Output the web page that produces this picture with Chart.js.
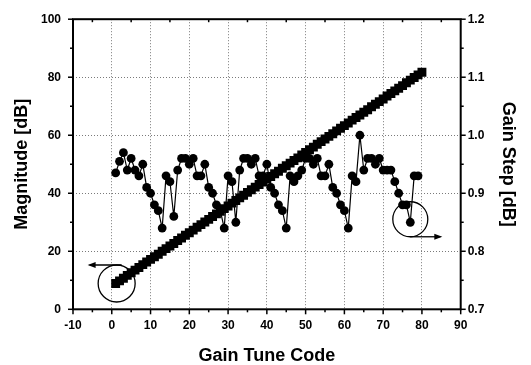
<!DOCTYPE html>
<html>
<head>
<meta charset="utf-8">
<script src="https://cdn.jsdelivr.net/npm/chart.js@4/dist/chart.umd.min.js"></script>
<style>
html,body{margin:0;padding:0;background:#fff;}
#wrap{width:531px;height:365px;position:relative;}
</style>
</head>
<body>
<div id="wrap"><canvas id="c" width="531" height="365"></canvas></div>
<script>
// Gain tune codes
const magCodes = [1,2,3,4,5,6,7,8,9,10,11,12,13,14,15,16,17,18,19,20,21,22,23,24,25,26,27,28,29,30,31,32,33,34,35,36,37,38,39,40,41,42,43,44,45,46,47,48,49,50,51,52,53,54,55,56,57,58,59,60,61,62,63,64,65,66,67,68,69,70,71,72,73,74,75,76,77,78,79,80];
// Magnitude [dB] (left axis)
const magnitude = [8.9,9.8,10.7,11.7,12.6,13.5,14.4,15.4,16.3,17.2,18.1,19.0,20.0,20.9,21.8,22.7,23.7,24.6,25.5,26.4,27.3,28.3,29.2,30.1,31.0,32.0,32.9,33.8,34.7,35.6,36.6,37.5,38.4,39.3,40.3,41.2,42.1,43.0,43.9,44.9,45.8,46.7,47.6,48.6,49.5,50.4,51.3,52.2,53.2,54.1,55.0,55.9,56.9,57.8,58.7,59.6,60.5,61.5,62.4,63.3,64.2,65.2,66.1,67.0,67.9,68.8,69.8,70.7,71.6,72.5,73.5,74.4,75.3,76.2,77.1,78.1,79.0,79.9,80.8,81.7];
const stepCodes = [1,2,3,4,5,6,7,8,9,10,11,12,13,14,15,16,17,18,19,20,21,22,23,24,25,26,27,28,29,30,31,32,33,34,35,36,37,38,39,40,41,42,43,44,45,46,47,48,49,50,51,52,53,54,55,56,57,58,59,60,61,62,63,64,65,66,67,68,69,70,71,72,73,74,75,76,77,78,79];
// Gain Step [dB] (right axis)
const gainStep = [0.935,0.955,0.970,0.940,0.960,0.940,0.930,0.950,0.910,0.900,0.880,0.870,0.840,0.930,0.920,0.860,
  0.940,0.960,0.960,0.950,0.960,0.930,0.930,0.950,0.910,0.900,0.880,0.870,0.840,0.930,0.920,0.850,
  0.940,0.960,0.960,0.950,0.960,0.930,0.930,0.950,0.910,0.900,0.880,0.870,0.840,0.930,0.920,0.930,
  0.940,0.960,0.960,0.950,0.960,0.930,0.930,0.950,0.910,0.900,0.880,0.870,0.840,0.930,0.920,1.000,
  0.940,0.960,0.960,0.950,0.960,0.940,0.940,0.940,0.920,0.900,0.880,0.880,0.850,0.930,0.930];
// Axis tick definitions
const xTicks = [-10,0,10,20,30,40,50,60,70,80,90];
const yLeftTicks = [0,20,40,60,80,100];
const yRightTicks = [0.7,0.8,0.9,1.0,1.1,1.2];
const xTitle = 'Gain Tune Code';
const yLeftTitle = 'Magnitude [dB]';
const yRightTitle = 'Gain Step [dB]';

const FONT = '"Liberation Sans", Arial, sans-serif';

function gridColor(edgeVals){
  return (ctx) => {
    const v = ctx.tick ? ctx.tick.value : null;
    if (v === null) return 'rgba(0,0,0,0)';
    for (const e of edgeVals) if (Math.abs(v - e) < 1e-9) return 'rgba(0,0,0,0)';
    return '#7a7a7a';
  };
}

const framePlugin = {
  id: 'frame',
  afterDraw(chart) {
    const ctx = chart.ctx;
    const a = chart.chartArea;
    const xs = chart.scales.x, yl = chart.scales.y, yr = chart.scales.y1;
    ctx.save();
    ctx.strokeStyle = '#000';
    ctx.lineWidth = 1.5;
    function hTick(x, y0, y1) { ctx.beginPath(); ctx.moveTo(x, y0); ctx.lineTo(x, y1); ctx.stroke(); }
    function vTick(y, x0, x1) { ctx.beginPath(); ctx.moveTo(x0, y); ctx.lineTo(x1, y); ctx.stroke(); }
    for (let i = 0; i < xTicks.length; i++) {
      const x = xs.getPixelForValue(xTicks[i]);
      hTick(x, a.bottom, a.bottom + 5);
      if (i < xTicks.length - 1) {
        const xm = xs.getPixelForValue((xTicks[i] + xTicks[i+1]) / 2);
        hTick(xm, a.bottom, a.bottom + 3);
        hTick(xm, a.top, a.top + 3);
      }
    }
    for (let i = 0; i < yLeftTicks.length; i++) {
      const y = yl.getPixelForValue(yLeftTicks[i]);
      vTick(y, a.left, a.left - 5);
      if (i < yLeftTicks.length - 1) {
        const ym = yl.getPixelForValue((yLeftTicks[i] + yLeftTicks[i+1]) / 2);
        vTick(ym, a.left, a.left - 3);
      }
    }
    for (let i = 0; i < yRightTicks.length; i++) {
      const y = yr.getPixelForValue(yRightTicks[i]);
      vTick(y, a.right, a.right + 5);
      if (i < yRightTicks.length - 1) {
        const ym = yr.getPixelForValue((yRightTicks[i] + yRightTicks[i+1]) / 2);
        vTick(ym, a.right, a.right + 3);
      }
    }
    ctx.lineWidth = 2;
    ctx.strokeRect(a.left, a.top, a.right - a.left, a.bottom - a.top);

    ctx.lineWidth = 1.3;
    function arrow(x0, y, x1) {
      ctx.beginPath(); ctx.moveTo(x0, y); ctx.lineTo(x1, y); ctx.stroke();
      const dir = Math.sign(x1 - x0);
      ctx.beginPath();
      ctx.moveTo(x1 + dir * 2, y);
      ctx.lineTo(x1 - dir * 6, y - 3);
      ctx.lineTo(x1 - dir * 6, y + 3);
      ctx.closePath();
      ctx.fillStyle = '#000';
      ctx.fill();
    }
    const c1x = xs.getPixelForValue(magCodes[0]);
    const c1y = yl.getPixelForValue(magnitude[0]);
    const r1 = 18.5;
    ctx.beginPath(); ctx.arc(c1x + 1, c1y, r1, 0, Math.PI * 2); ctx.stroke();
    arrow(c1x + 6, c1y - r1, c1x - 26);

    const i77 = stepCodes.indexOf(77);
    const c2x = xs.getPixelForValue(stepCodes[i77]);
    const c2y = yr.getPixelForValue(gainStep[i77]) - 3;
    const r2 = 17.5;
    ctx.beginPath(); ctx.arc(c2x, c2y, r2, 0, Math.PI * 2); ctx.stroke();
    arrow(c2x, c2y + r2, c2x + 30);
    ctx.restore();
  }
};

const tickFont = { family: FONT, size: 12, weight: 'bold' };
const titleFont = { family: FONT, size: 18, weight: 'bold', lineHeight: 1 };

new Chart(document.getElementById('c'), {
  type: 'scatter',
  data: {
    datasets: [
      {
        label: 'Magnitude',
        data: magCodes.map((c, i) => ({ x: c, y: magnitude[i] })),
        yAxisID: 'y',
        showLine: false,
        pointStyle: 'rect',
        pointRadius: 6.3,
        pointBackgroundColor: '#000',
        pointBorderColor: '#000',
        pointBorderWidth: 0,
        order: 0
      },
      {
        label: 'Gain Step',
        data: stepCodes.map((c, i) => ({ x: c, y: gainStep[i] })),
        yAxisID: 'y1',
        showLine: true,
        borderColor: '#000',
        borderWidth: 1.2,
        pointStyle: 'circle',
        pointRadius: 4.4,
        pointBackgroundColor: '#000',
        pointBorderColor: '#000',
        pointBorderWidth: 0,
        order: 1
      }
    ]
  },
  options: {
    responsive: false,
    animation: false,
    devicePixelRatio: 1,
    layout: { padding: { top: 15.7, left: 0, right: 0, bottom: 0 } },
    plugins: { legend: { display: false }, tooltip: { enabled: false } },
    scales: {
      x: {
        type: 'linear', position: 'bottom', min: -10, max: 90,
        afterBuildTicks: (s) => { s.ticks = xTicks.map(v => ({ value: v })); },
        ticks: { font: tickFont, color: '#000', padding: 9, maxRotation: 0, autoSkip: false },
        grid: { color: gridColor([-10, 90]), lineWidth: 1, drawTicks: false },
        border: { display: false, dash: [1, 2] },
        title: { display: true, text: xTitle, font: titleFont, color: '#000', padding: { top: 0, bottom: 0 } },
        afterFit: (s) => { s.height = 55.7; }
      },
      y: {
        type: 'linear', position: 'left', min: 0, max: 100,
        afterBuildTicks: (s) => { s.ticks = yLeftTicks.map(v => ({ value: v })); },
        ticks: { font: tickFont, color: '#000', padding: 12 },
        grid: { color: gridColor([0, 100]), lineWidth: 1, drawTicks: false },
        border: { display: false, dash: [1, 2] },
        title: { display: true, text: yLeftTitle, font: titleFont, color: '#000', padding: { top: 13.5, bottom: 0 } },
        afterFit: (s) => { s.width = 73; }
      },
      y1: {
        type: 'linear', position: 'right', min: 0.7, max: 1.2,
        afterBuildTicks: (s) => { s.ticks = yRightTicks.map(v => ({ value: v })); },
        ticks: { font: tickFont, color: '#000', padding: 7, callback: (v) => Number(v).toFixed(1) },
        grid: { display: false, drawTicks: false },
        border: { display: false },
        title: { display: true, text: yRightTitle, font: titleFont, color: '#000', padding: { top: 14, bottom: 0 } },
        afterFit: (s) => { s.width = 70.3; }
      }
    }
  },
  plugins: [framePlugin]
});
</script>
</body>
</html>
